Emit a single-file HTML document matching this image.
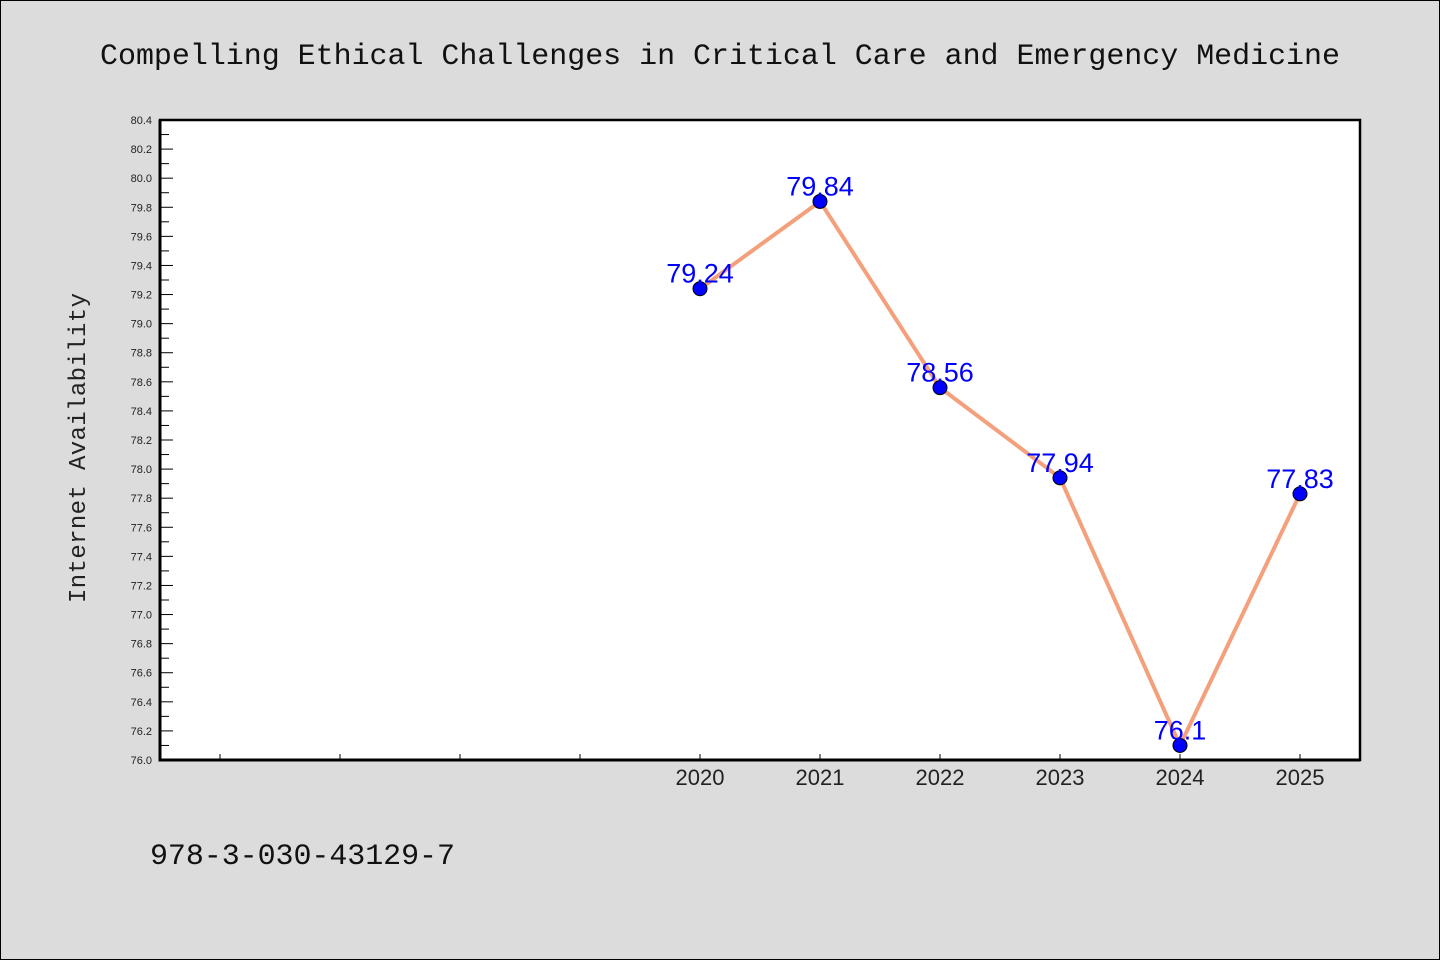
<!DOCTYPE html>
<html><head><meta charset="utf-8"><style>
body{margin:0;background:#dcdcdc;}
svg{display:block;}
</style></head><body>
<svg id="chart" width="1440" height="960" xmlns="http://www.w3.org/2000/svg">
<rect x="0.5" y="0.5" width="1439" height="959" fill="#dcdcdc" stroke="#000" stroke-width="1"/>
<text x="100" y="64" font-family="Liberation Mono, DejaVu Sans Mono, monospace" font-size="30" textLength="1240" lengthAdjust="spacing" fill="#111">Compelling Ethical Challenges in Critical Care and Emergency Medicine</text>
<rect x="160" y="120" width="1200" height="640" fill="#fff" stroke="#000" stroke-width="2.5"/>
<g id="yaxis"></g>
<g id="xaxis"></g>
<text transform="translate(85,448) rotate(-90)" text-anchor="middle" font-family="Liberation Mono, DejaVu Sans Mono, monospace" font-size="24" textLength="310" lengthAdjust="spacing" fill="#222">Internet Availability</text>
<g id="series"></g>
<text x="150" y="864" font-family="Liberation Mono, DejaVu Sans Mono, monospace" font-size="30" textLength="305" lengthAdjust="spacing" fill="#111">978-3-030-43129-7</text>
</svg>
<script>
const categories = ["", "", "", "", "2020", "2021", "2022", "2023", "2024", "2025"];
const values = [null, null, null, null, 79.24, 79.84, 78.56, 77.94, 76.1, 77.83];
const labels = ["", "", "", "", "79.24", "79.84", "78.56", "77.94", "76.1", "77.83"];
const yMin = 76.0, yMax = 80.4;
const NS = "http://www.w3.org/2000/svg";
const L = 160, R = 1360, T = 120, B = 760;
function x(i){ return L + (i + 0.5) * (R - L) / categories.length; }
function y(v){ return B - (v - yMin) / (yMax - yMin) * (B - T); }
function mk(tag, attrs, parent){ const e = document.createElementNS(NS, tag); for (const k in attrs) e.setAttribute(k, attrs[k]); parent.appendChild(e); return e; }
const ya = document.getElementById('yaxis');
for (let k = 0; k <= 44; k++) {
  const v = yMin + k * 0.1, yy = y(v), major = k % 2 === 0;
  const t = mk('line', {x1: L, x2: L + (major ? 13 : 9), y1: yy, y2: yy, stroke: '#000', 'stroke-width': 1}, ya);
  
  
  if (major) {
    const tx = mk('text', {x: L - 8, y: yy + 4, 'text-anchor': 'end', 'font-family': 'Liberation Sans, sans-serif', 'font-size': 11, fill: '#222'}, ya);
    tx.textContent = v.toFixed(1);
    
    
  }
}
mk('line', {x1: L, x2: L, y1: T, y2: B + 1.5, stroke: '#000', 'stroke-width': 3}, ya);
const xa = document.getElementById('xaxis');
mk('line', {x1: L - 1.5, x2: R, y1: B, y2: B, stroke: '#000', 'stroke-width': 3}, xa);
categories.forEach((c, i) => {
  const t = mk('line', {x1: x(i), x2: x(i), y1: B, y2: B - 6, stroke: '#000', 'stroke-width': 1}, xa);
  
  
  if (c) {
    const tx = mk('text', {x: x(i), y: B + 25, 'text-anchor': 'middle', 'font-family': 'Liberation Sans, sans-serif', 'font-size': 22, fill: '#222'}, xa);
    tx.textContent = c;
    
    
  }
});
const s = document.getElementById('series');
let pts = [];
values.forEach((v, i) => { if (v !== null) pts.push(x(i) + ',' + y(v)); });
const line = mk('polyline', {points: pts.join(' '), fill: 'none', stroke: '#f4a07c', 'stroke-width': 4, 'stroke-linejoin': 'round'}, s);


values.forEach((v, i) => {
  if (v === null) return;
  const c = mk('circle', {cx: x(i), cy: y(v), r: 7, fill: '#0000ff', stroke: '#000', 'stroke-width': 1}, s);
  
  
  const t = mk('text', {x: x(i), y: y(v) - 6, 'text-anchor': 'middle', 'font-family': 'Liberation Sans, sans-serif', 'font-size': 27, fill: '#0000ff'}, s);
  t.textContent = labels[i];
  
  
});
</script>
</body></html>
